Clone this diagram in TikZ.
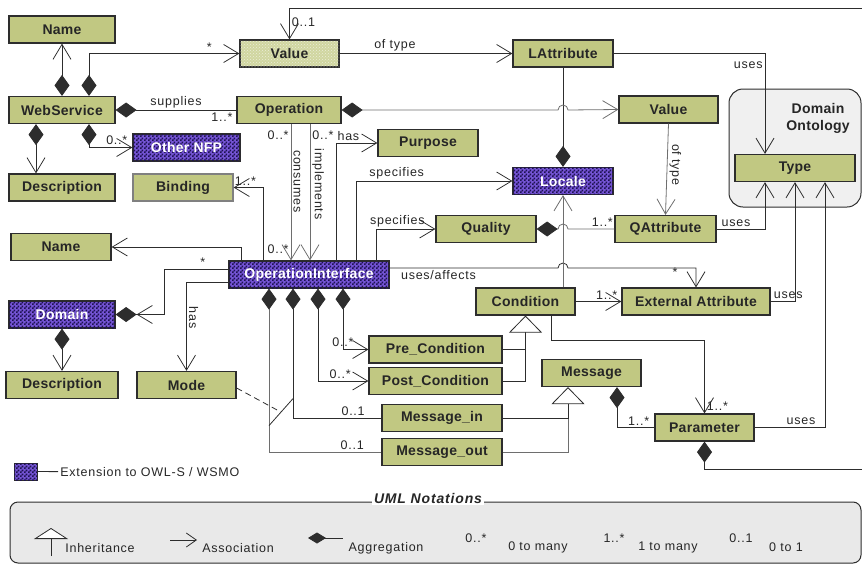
\documentclass[tikz,border=0pt]{standalone}
\usepackage{fontspec}
\setmainfont{Liberation Sans}
\newfontfamily\lblfam[LetterSpace=6]{Liberation Sans}
\newfontfamily\boxfam[LetterSpace=2]{Liberation Sans}
\usetikzlibrary{arrows.meta,patterns}
\pgfdeclarepatternformonly{finecheck}{\pgfpointorigin}{\pgfqpoint{4pt}{4pt}}{\pgfqpoint{4pt}{4pt}}{%
  \pgfpathrectangle{\pgfpointorigin}{\pgfqpoint{2pt}{2pt}}%
  \pgfpathrectangle{\pgfqpoint{2pt}{2pt}}{\pgfqpoint{2pt}{2pt}}%
  \pgfusepath{fill}}
\definecolor{clsgreen}{RGB}{193,200,130}
\definecolor{clslight}{RGB}{208,214,160}
\definecolor{extpurple}{RGB}{116,84,212}
\definecolor{extdark}{RGB}{30,18,82}
\definecolor{linec}{RGB}{45,45,45}
\definecolor{lineg}{RGB}{110,110,110}
\definecolor{ontogray}{RGB}{240,240,240}
\definecolor{umlgray}{RGB}{233,233,233}
\begin{document}
\begin{tikzpicture}[x=1pt,y=-1pt,line width=0.8pt,color=linec,
  cls/.style={draw=linec,line width=1.2pt,fill=clsgreen,text=black!85,
    font=\boxfam\bfseries\fontsize{14}{16}\selectfont,minimum height=27pt,inner sep=0pt},
  ext/.style={cls,fill=extpurple,postaction={pattern=finecheck,pattern color=extdark},text=white},
  lbl/.style={font=\lblfam\fontsize{12.5}{14}\selectfont,text=black!85,inner sep=2pt},
  vlbl/.style={lbl,rotate=-90,anchor=south},
  assoc/.style={-{Straight Barb[length=15pt,width=18pt]}},
  aggr/.style={{Diamond[length=21pt,width=15pt,color=linec]}-},
  aggrto/.style={{Diamond[length=21pt,width=15pt,color=linec]}-{Straight Barb[length=15pt,width=18pt]}},
  inh/.style={-{Triangle[fill=white,length=17pt,width=33pt]}}]
  \useasboundingbox (0,0) rectangle (862,565);

  \node[draw,rounded corners=14pt,fill=ontogray,line width=1pt,minimum width=132pt,minimum height=118pt] (onto) at (795,148) {};
  \node[font=\boxfam\bfseries\fontsize{14}{17}\selectfont,align=center,text=black!85] (ontotx) at (818,118) {Domain\\Ontology};

  \node[cls,minimum width=106pt] (name1) at (62,29.5) {Name};
  \node[cls,minimum width=106pt] (ws) at (62,110) {WebService};
  \node[cls,minimum width=106pt] (desc1) at (62,187.5) {Description};
  \node[cls,minimum width=99pt,fill=clslight,postaction={pattern=crosshatch dots,pattern color=white!70!clsgreen}] (val1) at (289.5,53.5) {Value};
  \node[cls,minimum width=100pt] (latt) at (563,53.5) {LAttribute};
  \node[cls,minimum width=104pt] (op) at (289,110) {Operation};
  \node[cls,minimum width=99pt] (val2) at (668.5,109.5) {Value};
  \node[cls,minimum width=120pt] (type) at (795,168) {Type};
  \node[ext,minimum width=107pt] (nfp) at (186.5,147.5) {Other NFP};
  \node[cls,minimum width=100pt] (purp) at (428,143) {Purpose};
  \node[cls,minimum width=100pt,draw=gray] (bind) at (183,187.5) {Binding};
  \node[ext,minimum width=100pt] (loc) at (563,181) {Locale};
  \node[cls,minimum width=100pt] (name2) at (61,247) {Name};
  \node[cls,minimum width=100pt] (qual) at (486,229) {Quality};
  \node[cls,minimum width=101pt] (qatt) at (665.5,229) {QAttribute};
  \node[ext,minimum width=160pt] (opi) at (309,274.5) {OperationInterface};
  \node[ext,minimum width=106pt] (dom) at (62,314.5) {Domain};
  \node[cls,minimum width=99pt] (cond) at (525.5,301.5) {Condition};
  \node[cls,minimum width=148pt] (extat) at (696,301.5) {External Attribute};
  \node[cls,minimum width=133pt] (pre) at (435.5,349.5) {Pre\_Condition};
  \node[cls,minimum width=133pt] (post) at (435.5,381) {Post\_Condition};
  \node[cls,minimum width=99pt] (msg) at (591.5,373) {Message};
  \node[cls,minimum width=112pt] (desc2) at (62,385) {Description};
  \node[cls,minimum width=99pt] (mode) at (186.5,385) {Mode};
  \node[cls,minimum width=120pt] (min) at (442,418) {Message\_in};
  \node[cls,minimum width=99pt] (par) at (704.5,427.5) {Parameter};
  \node[cls,minimum width=120pt] (mout) at (442,452) {Message\_out};

  \draw[aggrto] (ws.north) -- (name1.south);
  \draw[aggrto] ([xshift=27pt]ws.north) |- node[lbl,pos=0.9,above]{*} (val1.west);
  \draw[aggr] (ws.east) -- node[lbl,above]{supplies} node[lbl,pos=0.88,below]{1..*} (op.west);
  \draw[aggrto] ([xshift=-26pt]ws.south) -- ([xshift=-26pt]desc1.north);
  \draw[aggrto] ([xshift=27pt]ws.south) |- node[lbl,pos=0.82,above]{0..*} (nfp.west);
  \coordinate (topr) at (862,8);
  \draw[assoc] (topr) -| node[lbl,pos=0.72,right]{0..1} (val1.north);
  \draw[assoc] (val1.east) -- node[lbl,pos=0.32,above]{of type} (latt.west);
  \draw[assoc] (latt.east) -| node[lbl,pos=0.56,left]{uses} ([xshift=-30pt]type.north);
  \draw[aggr] (loc.north) -- (latt.south);
  \coordinate (hopa) at (op.east -| loc.north);
  \draw[aggrto,lineg] (op.east) -- ([xshift=-5pt]hopa) arc[start angle=180,end angle=0,radius=5pt] -- (val2.west);
  \draw[assoc,lineg] (val2.south) -- node[vlbl,pos=0.45]{of type} (qatt.north);
  \draw[assoc] (qatt.east) -| node[lbl,pos=0.2,above]{uses} ([xshift=-30pt]type.south);
  \draw[assoc] (extat.east) -| node[lbl,pos=0.36,above]{uses} (type.south);
  \draw[assoc] (par.east) -| node[lbl,pos=0.33,above]{uses} ([xshift=30pt]type.south);

  \coordinate (cs) at ([xshift=2pt]op.south);
  \coordinate (im) at ([xshift=21pt]op.south);
  \draw[assoc,lineg] (cs) -- node[lbl,pos=0.08,left]{0..*} node[vlbl,pos=0.42]{consumes} node[lbl,pos=0.92,left]{0..*} (cs |- opi.north);
  \draw[assoc,lineg] (im) -- node[lbl,pos=0.08,right]{0..*} node[vlbl,pos=0.44]{implements} (im |- opi.north);
  \draw[assoc] ([xshift=27pt]opi.north) |- node[lbl,pos=0.65,above]{has} (purp.west);
  \draw[assoc] ([xshift=47pt]opi.north) |- node[lbl,pos=0.63,above]{specifies} (loc.west);
  \draw[assoc] ([xshift=67pt]opi.north) |- node[lbl,pos=0.68,above]{specifies} (qual.west);
  \draw[assoc] ([xshift=-46pt]opi.north) |- node[lbl,pos=0.8,above]{1..*} (bind.east);
  \draw[assoc] ([xshift=-68pt]opi.north) |- (name2.east);

  \coordinate (hopb) at (qual.east -| loc.south);
  \draw[aggr,lineg] (qual.east) -- ([xshift=-5pt]hopb) arc[start angle=180,end angle=0,radius=5pt] -- node[lbl,pos=0.74,above]{1..*} (qatt.west);
  \coordinate (ua) at ([yshift=6.5pt]opi.east);
  \coordinate (hopc) at (ua -| loc.south);
  \draw[assoc] (ua) -- node[lbl,pos=0.29,below]{uses/affects} ([xshift=-5pt]hopc) arc[start angle=180,end angle=0,radius=5pt] -| node[lbl,pos=0.62,left=16pt]{*} (extat.north);
  \draw[assoc,lineg] (cond.north -| loc.south) -- (loc.south);
  \draw[assoc] (cond.east) -- node[lbl,pos=0.68,above]{1..*} (extat.west);

  \draw[aggr] (dom.east) -- ++(49,0) |- node[lbl,pos=0.8,above]{*} ([yshift=5.5pt]opi.west);
  \draw[{Straight Barb[length=15pt,width=18pt]}-] ([xshift=21pt]dom.east) -- ([xshift=36pt]dom.east);
  \draw[aggrto] (dom.south) -- (desc2.north);
  \draw[assoc] ([yshift=-7.5pt]opi.west) -| node[vlbl,pos=0.7]{has} (mode.north);

  \draw[aggrto] ([xshift=34pt]opi.south) |- node[lbl,pos=0.5,above]{0..*} (pre.west);
  \draw[aggrto] ([xshift=9pt]opi.south) |- node[lbl,pos=0.72,above]{0..*} (post.west);
  \draw[aggr] ([xshift=-16pt]opi.south) |- node[lbl,pos=0.84,above]{0..1} (min.west);
  \draw[aggr,lineg] ([xshift=-40pt]opi.south) |- node[lbl,pos=0.87,above]{0..1} (mout.west);
  \path ([xshift=-40pt]opi.south) ++(0,137) coordinate (xa);
  \path ([xshift=-16pt]opi.south) ++(0,110) coordinate (xb);
  \draw (xa) -- coordinate[pos=0.5] (xm) (xb);
  \draw[dash pattern=on 6pt off 4pt] ([yshift=-3pt]mode.east) -- (xm);

  \draw (post.east) -| (pre.east -| cond.south);
  \draw[inh] (pre.east) -| (cond.south);
  \coordinate (mtip) at ([xshift=-23.5pt]msg.south);
  \draw[lineg] (mout.east) -| (min.east -| mtip);
  \draw[inh] (min.east) -| (mtip);
  \draw[aggr] ([xshift=25.5pt]msg.south) |- node[lbl,pos=0.79,above]{1..*} (par.west);
  \draw[assoc] ([xshift=25.5pt]cond.south) -- ++(0,25) -| node[lbl,pos=0.95,right]{1..*} (par.north);
  \coordinate (botr) at (862,469);
  \draw[aggr] (par.south) |- (botr);

  \node[ext,minimum width=23pt,minimum height=17pt,line width=0.6pt] (legsw) at (25.5,471.5) {};
  \node[lbl,anchor=west] (legtx) at (58,472) {Extension to OWL-S / WSMO};
  \draw (legsw) -- (legtx);

  \node[draw,rounded corners=8pt,fill=umlgray,line width=1pt,minimum width=851pt,minimum height=61pt] (uml) at (435.5,532.5) {};
  \node[fill=white,font=\lblfam\bfseries\itshape\fontsize{14}{16}\selectfont,text=black!85,inner sep=2pt] (umltl) at (428,498) {UML Notations};
  \draw[-{Triangle[fill=white,length=11pt,width=34pt]}] (51,556) -- (51,528);
  \node[lbl] (lginh) at (100,548) {Inheritance};
  \draw[-{Straight Barb[length=10pt,width=14pt]}] (170,540) -- (197,540);
  \node[lbl] (lgass) at (238,548) {Association};
  \draw[{Diamond[length=18pt,width=11pt]}-] (308,538) -- (343,538);
  \node[lbl] (lgagg) at (386,548) {Aggregation};
  \node[lbl] (lgza) at (476,538) {0..*};
  \node[lbl] (lgzat) at (538,547) {0 to many};
  \node[lbl] (lgoa) at (614,538) {1..*};
  \node[lbl] (lgoat) at (668,547) {1 to many};
  \node[lbl] (lgzo) at (741,538) {0..1};
  \node[lbl] (lgzot) at (786,547) {0 to 1};
\end{tikzpicture}
\end{document}
